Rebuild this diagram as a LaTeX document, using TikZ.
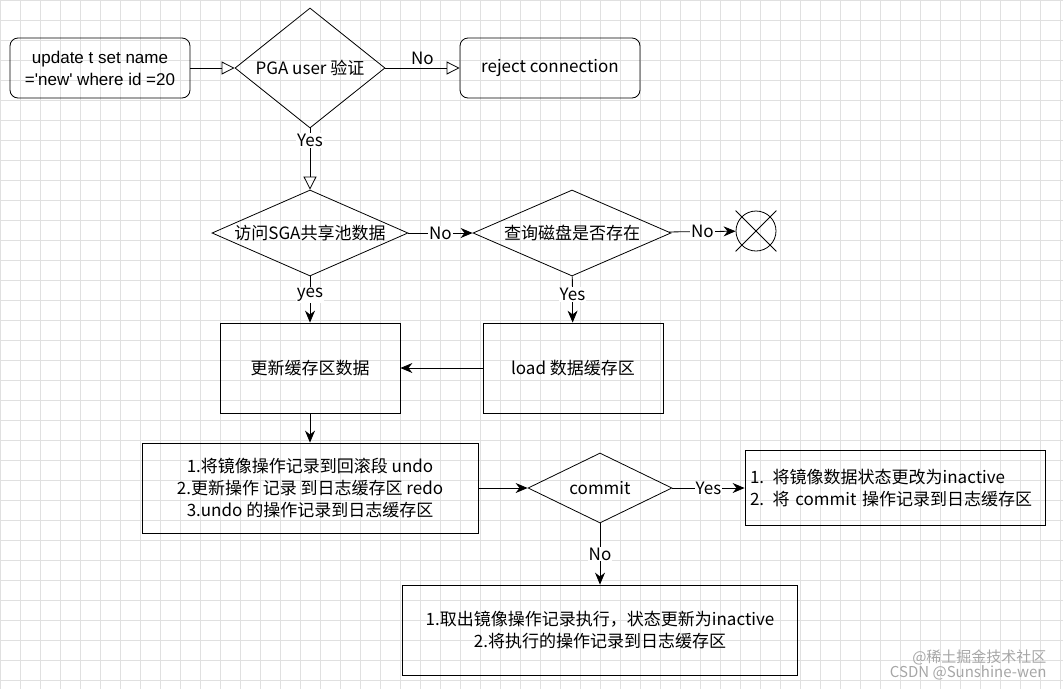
\documentclass[tikz,border=0pt]{standalone}
\usepackage{fontspec}
\setmainfont{Noto Sans CJK SC}
\newfontfamily\latin{Liberation Sans}
\usetikzlibrary{shapes.geometric,shapes.misc,arrows.meta}
\tikzset{
  box/.style={draw, thick, minimum width=#1, minimum height=90pt, align=center},
  rbox/.style={draw, thick, rounded corners=8pt, minimum width=180pt, minimum height=60pt, align=center},
  dec/.style={draw, thick, diamond, aspect=#1, inner sep=0pt},
  open/.style={-{Triangle[open,length=13pt,width=13pt]}, thick},
  solid/.style={-{Stealth[length=12pt,width=10pt]}, thick},
  lbl/.style={fill=white, inner sep=1pt}
}
\begin{document}
\begin{tikzpicture}[x=1pt, y=-1pt, font=\fontsize{17}{22}\selectfont]
  \useasboundingbox (0,0) rectangle (1063,689);
  % grid
  \draw[black!12, thin] (0,0) grid[step=20pt] (1063,689);
  \node (upd) [rbox, font=\latin\fontsize{17}{22}\selectfont] at (100,68) {update t set name\\=\char39new\char39{} where id =20};
  \node (pga) [dec=1.25, minimum width=150pt, minimum height=120pt] at (310,68) {};
  \node at (pga) {PGA user 验证};
  \node (rej) [rbox] at (550,68) {reject connection};
  \node (sga) [dec=2.28, minimum width=196pt, minimum height=86pt] at (310,233) {};
  \node at (sga) {访问SGA共享池数据};
  \node (disk) [dec=2.28, minimum width=198pt, minimum height=86pt] at (572,233) {};
  \node at (disk) {查询磁盘是否存在};
  \node (stop) [draw, thick, circle, cross out, minimum size=40pt] at (756,231) {};
  \draw[thick] (stop.center) circle (20pt);
  \node (buf) [box=180pt] at (310,368) {更新缓存区数据};
  \node (load) [box=180pt] at (573,368) {load 数据缓存区};
  \node (ops) [box=336pt] at (310,488) {1.将镜像操作记录到回滚段 undo\\2.更新操作 记录 到日志缓存区 redo\\3.undo 的操作记录到日志缓存区};
  \node (cmt) [dec=2.05, minimum width=144pt, minimum height=70pt] at (600,488) {};
  \node at (cmt) {commit};
  \node (done) [box=300pt, minimum height=75pt, align=left, text width=290pt] at (895,488) {1. 将镜像数据状态更改为inactive\\2. 将 commit 操作记录到日志缓存区};
  \node (roll) [box=395pt] at (600,630) {1.取出镜像操作记录执行，状态更新为inactive\\2.将执行的操作记录到日志缓存区};

  \draw[open] (upd) -- (pga);
  \draw[open] (pga) -- node[above] {No} (rej);
  \draw[open] (pga) -- node[lbl, pos=.2] {Yes} (sga);
  \draw[solid] (sga) -- node[lbl] {No} (disk);
  \draw[solid] (disk) -- node[lbl] {No} (stop);
  \draw[solid] (sga) -- node[lbl, pos=.4] {yes} (buf);
  \draw[solid] (disk) -- node[lbl, pos=.4] {Yes} (load);
  \draw[solid] (load) -- (buf);
  \draw[solid] (buf) -- (ops);
  \draw[solid] (ops) -- (cmt);
  \draw[solid] (cmt) -- node[lbl] {Yes} (done);
  \draw[solid] (cmt) -- node[lbl] {No} (roll);

  \node (mark) [text=black!35, align=right, font=\fontsize{15}{15}\selectfont, anchor=south east] at (1050,684) {@稀土掘金技术社区\\CSDN @Sunshine-wen};
\end{tikzpicture}
\end{document}
